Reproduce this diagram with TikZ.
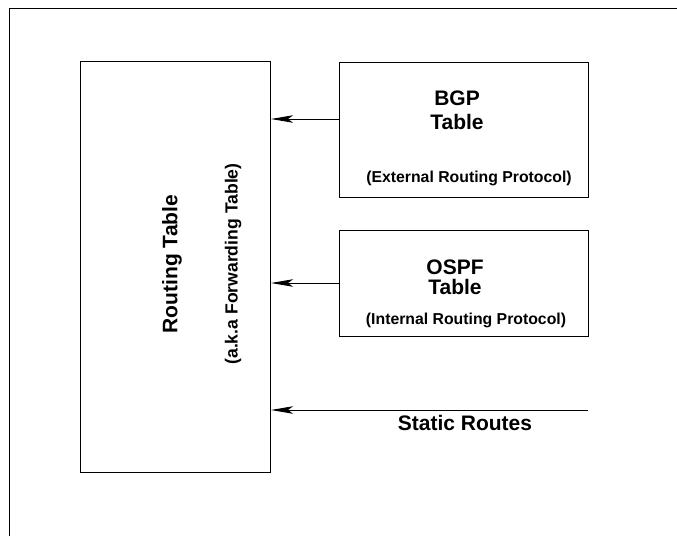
\documentclass[tikz,border=0pt]{standalone}
\usepackage{fontspec}
\setmainfont{Liberation Sans}
\usetikzlibrary{arrows.meta}
\tikzset{
  box/.style={draw, line width=1pt, inner sep=0pt},
  big/.style={font=\bfseries\fontsize{21}{24}\selectfont},
  mid/.style={font=\bfseries\fontsize{17.6}{20}\selectfont},
  small/.style={font=\bfseries\fontsize{15.8}{18}\selectfont},
  feed/.style={line width=0.9pt, -{Stealth[length=22pt, width=7.5pt, inset=5pt]}},
}
\begin{document}
\begin{tikzpicture}[x=1pt, y=-1pt]
\useasboundingbox (0,0) rectangle (677,536);
% outer frame
\draw[line width=1pt] (9,536) -- (9,8) -- (677,8);
% boxes
\node[box, minimum width=190pt, minimum height=411pt] (rt) at (175.5,267) {};
\node[box, minimum width=249pt, minimum height=135pt] (bgp) at (463.5,129.5) {};
\node[box, minimum width=249pt, minimum height=106pt] (ospf) at (463.5,283) {};
% routing table labels
\node[big, rotate=90] (rtname) at (172,264) {Routing Table};
\node[mid, rotate=90] (rtaka) at (233,264) {(a.k.a Forwarding Table)};
% BGP labels
\node[big, anchor=base] (bgpname) at (457,105) {BGP};
\node[big, anchor=base] (bgptab) at (457,129) {Table};
\node[small, anchor=base] (bgpnote) at (469,182) {(External Routing Protocol)};
% OSPF labels
\node[big, anchor=base] (ospfname) at (455,274) {OSPF};
\node[big, anchor=base] (ospftab) at (455,294) {Table};
\node[small, anchor=base] (ospfnote) at (466,324) {(Internal Routing Protocol)};
% static routes
\coordinate (src) at (588,410);
\node[big, anchor=base] (static) at (465,430) {Static Routes};
% feeds into the routing table
\coordinate (b1) at (bgp.west |- 0,119);
\coordinate (o1) at (ospf.west |- 0,283);
\draw[feed] (b1) -- (rt.east |- b1);
\draw[feed] (o1) -- (rt.east |- o1);
\draw[feed] (src) -- (rt.east |- src);
\end{tikzpicture}
\end{document}
